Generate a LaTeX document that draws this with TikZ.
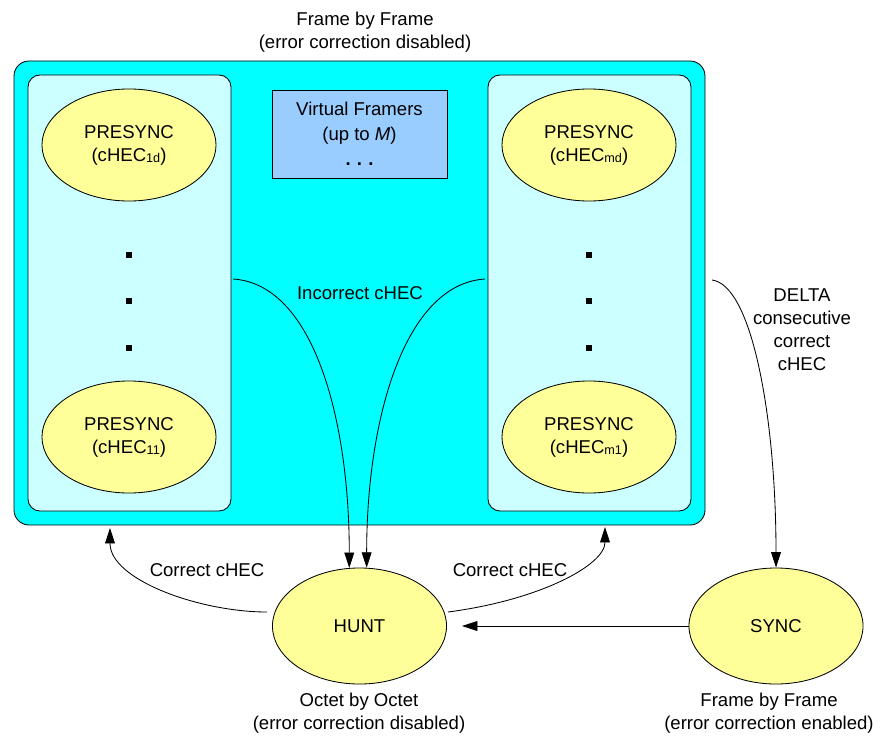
\documentclass[tikz,border=0pt]{standalone}
\usepackage{fontspec}
\setmainfont{Liberation Sans}
\usepackage{tikz}
\usetikzlibrary{shapes.geometric,arrows.meta,positioning}
\usepackage{xcolor}
\definecolor{boxcyan}{HTML}{00FFFF}
\definecolor{palecyan}{HTML}{CCFFFF}
\definecolor{stateyellow}{HTML}{FFFF99}
\definecolor{framerblue}{HTML}{99CCFF}
\newcommand{\hecsub}[1]{\raisebox{-1pt}{\fontsize{9}{9}\selectfont #1}}

\begin{document}
\begin{tikzpicture}[x=0.025cm, y=-0.025cm, line width=0.6pt,
    every node/.style={font=\fontsize{13.2}{16.4}\selectfont, align=center},
    state/.style={ellipse, draw, fill=stateyellow, inner sep=0pt,
        minimum width=4.35cm, minimum height=2.8cm},
    trans/.style={-{Triangle[length=11pt,width=7pt]}},
    dotmark/.style={fill=black, inner sep=0pt, minimum size=3.8pt}]
    \useasboundingbox (0,0) rectangle (885,736);

    % Frame by Frame region
    \draw[fill=boxcyan, rounded corners=0.375cm] (14,61) rectangle (705,525);
    \draw[fill=palecyan, rounded corners=0.3cm] (28,75) rectangle (231,511);
    \draw[fill=palecyan, rounded corners=0.3cm] (488,75) rectangle (691,511);
    \node (topnote) at (365,32) {Frame by Frame\\(error correction disabled)};

    % Virtual framers
    \node[draw, fill=framerblue, minimum width=4.375cm, minimum height=2.2cm,
        font=\fontsize{13.2}{17.8}\selectfont] (framers) at (359.5,134)
        {Virtual Framers\\(up to \textit{M})\\\textbf{.\,\,.\,\,.}};

    % Presync states
    \node[state] (pre1d) at (129,145) {PRESYNC\\(cHEC\hecsub{1d})};
    \node[state] (pre11) at (129,437) {PRESYNC\\(cHEC\hecsub{11})};
    \node[state] (premd) at (589,145) {PRESYNC\\(cHEC\hecsub{md})};
    \node[state] (prem1) at (589,437) {PRESYNC\\(cHEC\hecsub{m1})};
    \foreach \y in {255,301,348} {
        \node[dotmark] (ldot\y) at (129,\y) {};
        \node[dotmark] (rdot\y) at (589,\y) {};
    }

    % Hunt and Sync
    \node[state, minimum height=2.9cm] (hunt) at (359.5,626) {HUNT};
    \node[state, minimum height=2.9cm] (sync) at (776,626) {SYNC};
    \node (huntnote) at (359,713) {Octet by Octet\\(error correction disabled)};
    \node (syncnote) at (769,713) {Frame by Frame\\(error correction enabled)};

    % Transitions
    \coordinate (leftE) at (233,279);
    \coordinate (rightW) at (485,279);
    \coordinate (outerE) at (712,280);
    \coordinate (leftS) at (110,528);
    \coordinate (rightS) at (605,527);
    \coordinate (huntW) at (267,612);
    \coordinate (huntE) at (448,612);

    \draw[trans] (leftE) .. controls +(80,5) and +(0,-150) .. (hunt.100);
    \draw[trans] (rightW) .. controls +(-80,5) and +(0,-150) .. (hunt.83);
    \node (incorrect) at (360,293) {Incorrect cHEC};

    \draw[trans] (outerE) .. controls +(40,5) and +(0,-150) .. (sync.north);
    \node (delta) at (802,330) {DELTA\\consecutive\\correct\\cHEC};

    \draw[trans] (huntW) .. controls (200,612) and (110,580) .. (leftS);
    \node (corrleft) at (207,570) {Correct cHEC};
    \draw[trans] (huntE) .. controls (540,600) and (605,565) .. (rightS);
    \node (corrright) at (510,570) {Correct cHEC};

    \draw[trans] (sync.west) -- ([xshift=0.375cm]hunt.east);
\end{tikzpicture}
\end{document}
